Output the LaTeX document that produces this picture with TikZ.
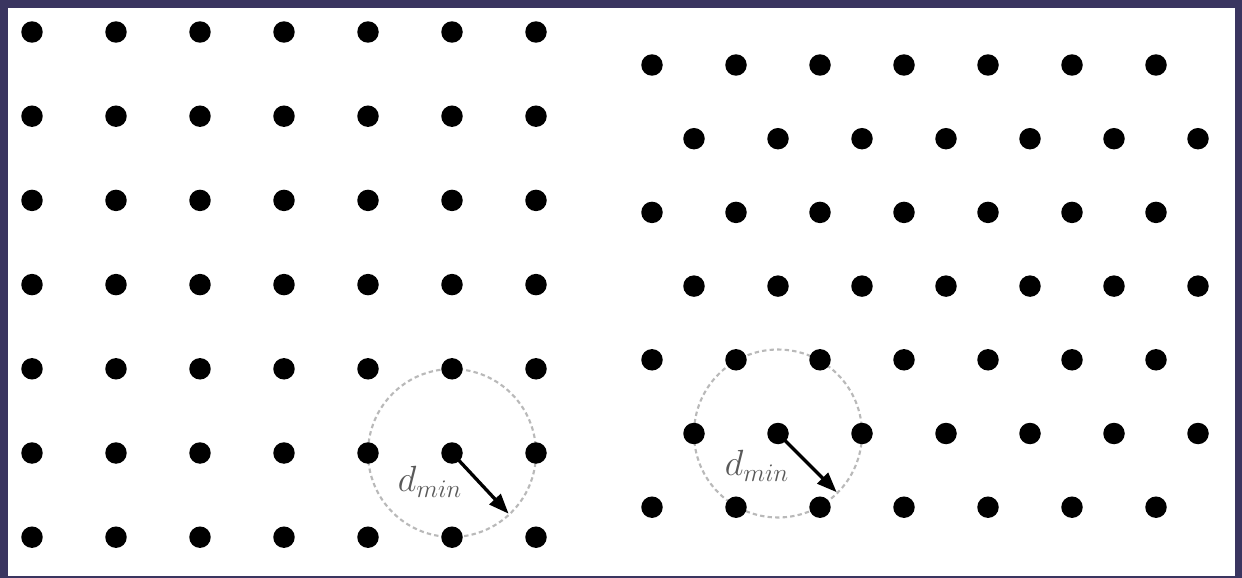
\documentclass[tikz,border=0pt]{standalone}
\usetikzlibrary{arrows.meta,backgrounds}
\definecolor{framecol}{HTML}{3A3560}
\tikzset{
  dot/.style={circle, fill=black, inner sep=0pt, minimum size=0.43cm},
  reach circle/.style={draw=gray!55, line width=1.2pt, dash pattern=on 2.5pt off 1.8pt},
  dmin arrow/.style={-{Triangle[length=0.4cm, width=0.3cm]}, line width=1.9pt, draw=black},
  dmin text/.style={text=black!65, font=\fontsize{22}{25}\selectfont}
}
\begin{document}
\begin{tikzpicture}[x=0.02cm, y=-0.02cm]
  % Square lattice
  \foreach \i in {0,...,6} {
    \foreach \j in {0,...,6} {
      \node[dot] (L-\i-\j) at (32+84*\i, 32+84.2*\j) {};
    }
  }
  % Hexagonal lattice, every other row shifted by half a step
  \foreach \j in {0,...,6} {
    \pgfmathsetmacro\shift{mod(\j,2)*42}
    \foreach \i in {0,...,6} {
      \node[dot] (R-\i-\j) at (652+\shift+84*\i, 65+73.7*\j) {};
    }
  }

  % Minimum distance markers
  \path (L-5-5) ++(-47:1.66cm) coordinate (L-tip);
  \path (R-1-5) ++(-45:1.66cm) coordinate (R-tip);
  \draw[dmin arrow] (L-5-5.center) -- (L-tip);
  \draw[dmin arrow] (R-1-5.center) -- (R-tip);
  \node[dmin text] (L-label) at (430,482) {$d_{min}$};
  \node[dmin text] (R-label) at (757,466) {$d_{min}$};

  \begin{scope}[on background layer]
    \fill[framecol] (0,0) rectangle (1242,578);
    \fill[white] (8,8) rectangle (1235,576);
    \draw[reach circle] (L-5-5) circle (1.68cm);
    \draw[reach circle] (R-1-5) circle (1.68cm);
  \end{scope}
\end{tikzpicture}
\end{document}
